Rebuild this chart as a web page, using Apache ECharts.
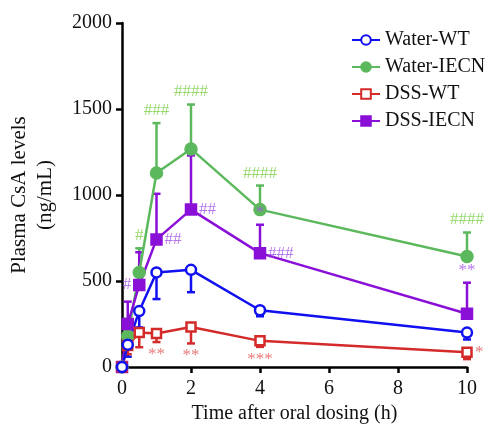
<!DOCTYPE html>
<html><head><meta charset="utf-8">
<script src="https://cdn.jsdelivr.net/npm/echarts@6/dist/echarts.min.js"></script>
<style>html,body{margin:0;padding:0;background:#fff}#c{width:498px;height:435px}</style>
</head><body><div id="c"></div>
<script>
// ---- data ----
var times = [0, 0.167, 0.5, 1, 2, 4, 10];
var seriesNames = ['Water-WT', 'Water-IECN', 'DSS-WT', 'DSS-IECN'];
var waterWT   = [0, 130, 325, 550, 565, 330, 200];
var waterWTErr = [0, 70, 95, 155, 130, 35, 40];
var waterIECN = [0, 180, 550, 1128, 1268, 915, 642];
var waterIECNErr = [0, 100, 140, 290, 258, 140, 140];
var dssWT     = [0, 125, 200, 195, 232, 152, 86];
var dssWTErr  = [0, 50, 85, 50, 95, 35, 40];
var dssIECN   = [0, 250, 477, 742, 915, 662, 310];
var dssIECNErr = [0, 130, 190, 265, 315, 165, 180];
var xTicks = [0, 2, 4, 6, 8, 10];
var yTicks = [0, 500, 1000, 1500, 2000];
// annotations: [time index, anchor, text, placement]
var annWaterIECN = [[2, 'top', '#', 'top'], [3, 'top', '###', 'top'], [4, 'top', '####', 'top'], [5, 'top', '####', 'top'], [6, 'top', '####', 'top']];
var annDssIECN = [[2, 'pt', '#', 'left'], [3, 'pt', '##', 'right'], [4, 'pt', '##', 'right'], [5, 'top', '*', 'top'], [5, 'pt', '###', 'right'], [6, 'top', '**', 'top']];
var annDssWT = [[3, 'bot', '**', 'bottom'], [4, 'bot', '**', 'bottom'], [5, 'bot', '***', 'bottom'], [6, 'pt', '*', 'right']];

var FONT = '"Liberation Serif", "Times New Roman", serif';
var colors = {blue: '#1010f0', green: '#5cb85c', red: '#d42a2a', purple: '#8a10d8'};
var annColors = {green: '#7ed04a', purple: '#a455e6', red: '#e05a5a'};

function pairs(vals) { return times.map(function (t, i) { return [t, vals[i]]; }); }

function errSeries(vals, errs, dir, color) {
  return {
    type: 'custom', silent: true, z: 2,
    data: times.map(function (t, i) { return [t, vals[i], dir > 0 ? vals[i] + errs[i] : vals[i] - errs[i]]; }),
    renderItem: function (params, api) {
      if (api.value(1) === api.value(2)) return null;
      var p0 = api.coord([api.value(0), api.value(1)]);
      var p1 = api.coord([api.value(0), api.value(2)]);
      var w = 4;
      return {
        type: 'group', children: [
          {type: 'line', shape: {x1: p0[0], y1: p0[1], x2: p1[0], y2: p1[1]}, style: {stroke: color, lineWidth: 2.5}},
          {type: 'line', shape: {x1: p1[0] - w, y1: p1[1], x2: p1[0] + w, y2: p1[1]}, style: {stroke: color, lineWidth: 2.5}}
        ]
      };
    }
  };
}

function annSeries(list, vals, errs, dir, color) {
  return {
    type: 'scatter', symbolSize: 0, silent: true, z: 5,
    data: list.map(function (a) {
      var i = a[0];
      var y = vals[i];
      if (a[1] === 'top') y = vals[i] + errs[i];
      if (a[1] === 'bot') y = vals[i] - errs[i];
      var off = a[3] === 'top' ? [0, -2] : a[3] === 'bottom' ? [0, 2] : a[3] === 'right' ? [6, 0] : [-6, 0];
      return {value: [times[i], y], label: {show: true, formatter: a[2], position: a[3], offset: off}};
    }),
    label: {show: true, color: color, fontFamily: FONT, fontSize: 17, distance: 2}
  };
}

function lineSeries(name, vals, color, symbol, size, filled) {
  return {
    name: name, type: 'line', data: pairs(vals), z: 3,
    symbol: symbol, symbolSize: size, showSymbol: true,
    lineStyle: {color: color, width: 2.5},
    itemStyle: {color: filled ? color : '#fff', borderColor: color, borderWidth: 2.5},
    color: color
  };
}

var chart = echarts.init(document.getElementById('c'));
chart.setOption({
  animation: false,
  backgroundColor: '#fff',
  grid: {left: 122, right: 31, top: 23, bottom: 68, containLabel: false, outerBoundsMode: 'none'},
  legend: {
    orient: 'vertical', left: 346, top: 25, itemWidth: 28, itemHeight: 12, itemGap: 7,
    textStyle: {fontFamily: FONT, fontSize: 20, color: '#111'},
    data: seriesNames
  },
  xAxis: {
    type: 'value', min: 0, max: 10, interval: 2,
    name: 'Time after oral dosing (h)', nameLocation: 'middle', nameGap: 36,
    nameTextStyle: {fontFamily: FONT, fontSize: 20, color: '#111'},
    axisLine: {lineStyle: {color: '#000', width: 2.5}},
    axisTick: {show: true, length: 6, lineStyle: {color: '#000', width: 2.5}},
    axisLabel: {fontFamily: FONT, fontSize: 20, color: '#111', margin: 12,
      formatter: function (v) { return xTicks.indexOf(v) >= 0 ? String(v) : ''; }},
    splitLine: {show: false}
  },
  yAxis: {
    type: 'value', min: 0, max: 2000, interval: 500,
    name: 'Plasma CsA levels\n(ng/mL)', nameLocation: 'middle', nameGap: 64, nameRotate: 90,
    nameTextStyle: {fontFamily: FONT, fontSize: 21, color: '#111', lineHeight: 26},
    axisLine: {show: true, lineStyle: {color: '#000', width: 2.5}},
    axisTick: {show: true, length: 6, lineStyle: {color: '#000', width: 2.5}},
    axisLabel: {fontFamily: FONT, fontSize: 20, color: '#111', margin: 10,
      formatter: function (v) { return yTicks.indexOf(v) >= 0 ? String(v) : ''; }},
    splitLine: {show: false}
  },
  series: [
    errSeries(waterIECN, waterIECNErr, 1, colors.green),
    errSeries(dssIECN, dssIECNErr, 1, colors.purple),
    errSeries(waterWT, waterWTErr, -1, colors.blue),
    errSeries(dssWT, dssWTErr, -1, colors.red),
    lineSeries('Water-IECN', waterIECN, colors.green, 'circle', 11, true),
    lineSeries('DSS-IECN', dssIECN, colors.purple, 'rect', 10, true),
    lineSeries('DSS-WT', dssWT, colors.red, 'rect', 9, false),
    lineSeries('Water-WT', waterWT, colors.blue, 'circle', 10, false),
    annSeries(annWaterIECN, waterIECN, waterIECNErr, 1, annColors.green),
    annSeries(annDssIECN, dssIECN, dssIECNErr, 1, annColors.purple),
    annSeries(annDssWT, dssWT, dssWTErr, -1, annColors.red)
  ]
});
</script></body></html>
